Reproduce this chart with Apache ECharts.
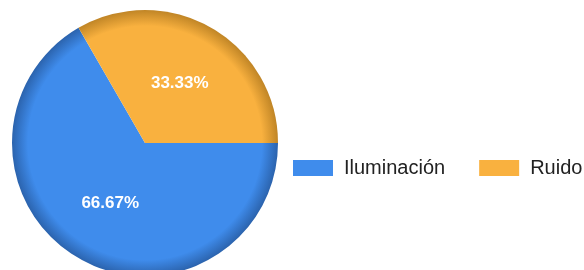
<!DOCTYPE html>
<html>
<head>
<meta charset="utf-8">
<script src="https://cdn.jsdelivr.net/npm/echarts@6/dist/echarts.min.js"></script>
<style>
  html, body { margin: 0; padding: 0; background: #fff; }
  #main { width: 584px; height: 270px; }
</style>
</head>
<body>
<div id="main"></div>
<script>
const categories = ["Iluminación", "Ruido"];
const values = [66.67, 33.33];
const baseColors = ["#3f8cec", "#f9b13f"];
const edgeColors = ["#2b63ad", "#c08526"];

const cx = 145, cy = 143, r = 133;

function shade(i) {
    return {
        type: "radial", x: cx, y: cy, r: r, global: true,
        colorStops: [
            { offset: 0, color: baseColors[i] },
            { offset: 0.88, color: baseColors[i] },
            { offset: 1, color: edgeColors[i] }
        ]
    };
}

let chart = echarts.init(document.getElementById("main"));
chart.setOption({
    animation: false,
    legend: {
        orient: "horizontal",
        left: 293,
        top: 158,
        width: 300,
        padding: 0,
        itemWidth: 40,
        itemHeight: 16,
        itemGap: 34,
        icon: "rect",
        data: categories.map((c, i) => ({ name: c, itemStyle: { color: baseColors[i] } })),
        textStyle: {
            fontFamily: "Liberation Sans, Arial, sans-serif",
            fontSize: 20,
            color: "#222",
            padding: [0, 0, 0, 6]
        }
    },
    series: [{
        type: "pie",
        center: [cx, cy],
        radius: r,
        startAngle: 0,
        clockwise: true,
        label: {
            position: "inside",
            formatter: "{d}%",
            color: "#fff",
            fontWeight: "bold",
            fontSize: 17,
            fontFamily: "Liberation Sans, Arial, sans-serif"
        },
        labelLine: { show: false },
        itemStyle: { borderWidth: 0 },
        emphasis: { disabled: true },
        data: categories.map((c, i) => ({
            name: c,
            value: values[i],
            itemStyle: { color: shade(i) }
        }))
    }]
});
</script>
</body>
</html>
